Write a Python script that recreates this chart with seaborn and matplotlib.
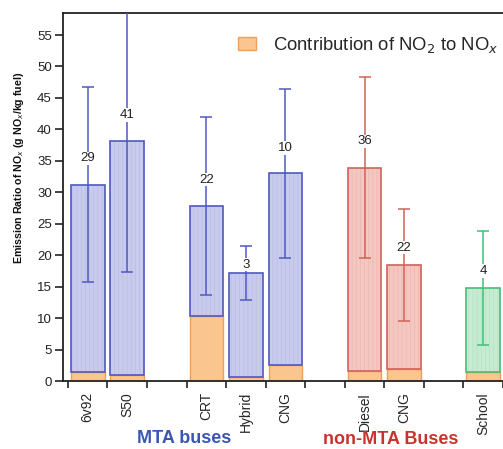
import matplotlib
matplotlib.use("Agg")
import matplotlib.pyplot as plt
from matplotlib.patches import Patch
import seaborn as sns
import pandas as pd

# Bus types, their slot on the x axis (empty slots separate the fleets) and fleet
categories = ["6v92", "S50", "CRT", "Hybrid", "CNG", "Diesel", "CNG", "School"]
slots = [0, 1, 3, 4, 5, 7, 8, 10]
fleets = ["MTA", "MTA", "MTA", "MTA", "MTA", "non-MTA", "non-MTA", "School"]

# Mean NOx emission ratio, NO2 part of it, one standard deviation, number of buses
nox_ratio = [31.2, 38.1, 27.8, 17.2, 33.0, 33.9, 18.5, 14.8]
no2_part = [1.5, 0.9, 10.3, 0.7, 2.5, 1.6, 1.95, 1.5]
nox_sd = [15.5, 20.8, 14.2, 4.3, 13.4, 14.4, 8.9, 9.0]
n_buses = [29, 41, 22, 3, 10, 36, 22, 4]

df = pd.DataFrame({"cat": categories, "slot": slots, "fleet": fleets,
                   "nox": nox_ratio, "no2": no2_part, "sd": nox_sd, "n": n_buses})

fill = {"MTA": "#c8cbec", "non-MTA": "#f4c7c1", "School": "#c6ebd2"}
texture = {"MTA": "#b9bde6", "non-MTA": "#ecb6af", "School": "#b3e2c2"}
edge = {"MTA": "#4f59c0", "non-MTA": "#d2625a", "School": "#45be78"}
orange_fill, orange_edge = "#fbc58f", "#eea05a"

sns.set_style("ticks")
plt.rcParams["font.family"] = ["Liberation Sans", "DejaVu Sans"]
plt.rcParams["hatch.linewidth"] = 0.5

fig = plt.figure(figsize=(5.03, 4.49), dpi=100)
ax = fig.add_axes([63 / 503, 68 / 449, 440 / 503, 368 / 449])


def row_for(patch):
    x_mid = patch.get_x() + patch.get_width() / 2
    return df.loc[(df["slot"] - x_mid).abs() < 0.3].iloc[0]


def stack_on_no2(patches):
    for p in patches:
        row = row_for(p)
        p.set_y(row["no2"])
        p.set_height(row["nox"] - row["no2"])


# NO2 contribution at the bottom of each bar
sns.barplot(data=df, x="slot", y="no2", color=orange_fill, native_scale=True,
            width=0.85, errorbar=None, ax=ax, linewidth=1.0, saturation=1)
for p in ax.patches:
    p.set_edgecolor(orange_edge)
    p.set_zorder(1.5)

# NOx bars stacked above the NO2 part: textured fill, then outline
n0 = len(ax.patches)
sns.barplot(data=df, x="slot", y="nox", hue="fleet", palette=fill, native_scale=True,
            dodge=False, width=0.85, errorbar=None, legend=False, ax=ax,
            linewidth=0, saturation=1)
fill_patches = ax.patches[n0:]
stack_on_no2(fill_patches)
for p in fill_patches:
    p.set_edgecolor(texture[row_for(p)["fleet"]])
    p.set_linewidth(0)
    p.set_hatch("||||")
    p.set_zorder(2)

n1 = len(ax.patches)
sns.barplot(data=df, x="slot", y="nox", hue="fleet", palette=edge, native_scale=True,
            dodge=False, width=0.85, errorbar=None, legend=False, ax=ax,
            fill=False, linewidth=1.2, saturation=1)
outline_patches = ax.patches[n1:]
stack_on_no2(outline_patches)
for p in outline_patches:
    p.set_edgecolor(edge[row_for(p)["fleet"]])
    p.set_zorder(2.5)

# Error bars and bus counts
for _, row in df.iterrows():
    ax.errorbar(row["slot"], row["nox"], yerr=row["sd"], fmt="none",
                ecolor=edge[row["fleet"]], elinewidth=1.1, capsize=4, capthick=1.1,
                zorder=3)
    ax.text(row["slot"], row["nox"] + min(4.2, 0.3 * row["sd"]), str(row["n"]),
            ha="center", va="center", fontsize=9.5, color="#222222", zorder=4,
            bbox=dict(facecolor="white", edgecolor="none", pad=0.5))

ax.set_xlim(-0.625, 10.375)
ax.set_ylim(0, 58.5)
ax.set_yticks(range(0, 56, 5))
ax.tick_params(axis="y", labelsize=9.5, length=6, width=1.2, pad=2, colors="#222222")

# boundary ticks between slots, labels at bar centres
ax.set_xticks([s - 0.5 for s in range(0, 12)])
ax.set_xticklabels([])
ax.tick_params(axis="x", which="major", length=5, width=1.2, color="#222222")
ax.set_xticks(slots, minor=True)
ax.set_xticklabels(categories, minor=True, rotation=90, fontsize=10)
ax.tick_params(axis="x", which="minor", length=0, pad=8)

ax.set_xlabel("")
ax.set_ylabel("Emission Ratio of NO$_x$ (g NO$_x$/kg fuel)", fontsize=7.7,
              fontweight="bold", color="#111111")
ax.yaxis.set_label_coords(-0.083, 0.58)

for side in ["left", "bottom", "top"]:
    ax.spines[side].set_linewidth(1.3)
    ax.spines[side].set_color("#222222")
ax.spines["top"].set_visible(True)
ax.spines["right"].set_visible(False)

# fleet group labels
ax.text(2.45, -9.2, "MTA buses", ha="center", va="center", fontsize=13,
        fontweight="bold", color="#3b55b5", clip_on=False)
ax.text(7.65, -9.3, "non-MTA Buses", ha="center", va="center", fontsize=13,
        fontweight="bold", color="#c8332c", clip_on=False)

handle = Patch(facecolor=orange_fill, edgecolor=orange_edge, linewidth=1.0)
ax.legend([handle], ["Contribution of NO$_2$ to NO$_x$"], loc="upper left",
          bbox_to_anchor=(0.36, 0.985), frameon=False, fontsize=13.3,
          handlelength=1.0, handleheight=0.75, handletextpad=0.9)

fig.savefig("out.png", dpi=100)
